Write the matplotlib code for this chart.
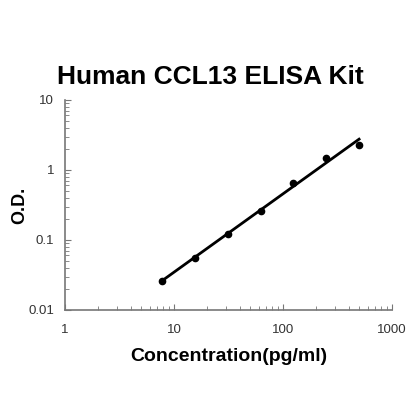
import matplotlib
matplotlib.use('Agg')
import matplotlib.pyplot as plt
import numpy as np

conc = [7.8, 15.6, 31.25, 62.5, 125, 250, 500]
od = [0.026, 0.056, 0.12, 0.26, 0.65, 1.5, 2.3]

plt.rcParams['font.family'] = ['Liberation Sans', 'DejaVu Sans']

fig = plt.figure(figsize=(4.2, 4.2), dpi=100)
ax = fig.add_axes([0.155, 0.262, 0.778, 0.5])

# linear fit in log-log space
p = np.polyfit(np.log10(conc), np.log10(od), 1)
xs = np.array([conc[0], conc[-1]])
ax.plot(xs, 10 ** np.polyval(p, np.log10(xs)), color='black', lw=2)
ax.plot(conc, od, 'o', color='black', markersize=4.5)

ax.set_xscale('log')
ax.set_yscale('log')
ax.set_xlim(1, 1000)
ax.set_ylim(0.01, 10)
ax.set_xticks([1, 10, 100, 1000])
ax.set_xticklabels(['1', '10', '100', '1000'])
ax.set_yticks([0.01, 0.1, 1, 10])
ax.set_yticklabels(['0.01', '0.1', '1', '10'])

for s in ['top', 'right']:
    ax.spines[s].set_visible(False)
for s in ['left', 'bottom']:
    ax.spines[s].set_color('#777777')
    ax.spines[s].set_linewidth(1.2)

ax.tick_params(which='both', direction='in', color='#777777', labelsize=9.5, labelcolor='#333333')
ax.tick_params(which='major', length=4)
ax.tick_params(which='minor', length=3)
ax.tick_params(axis='x', pad=10)
ax.tick_params(axis='y', pad=8)

ax.set_xlabel('Concentration(pg/ml)', fontsize=14, fontweight='bold')
ax.set_ylabel('O.D.', fontsize=13, fontweight='bold')
ax.xaxis.set_label_coords(0.5, -0.18)
ax.yaxis.set_label_coords(-0.113, 0.5)
fig.suptitle('Human CCL13 ELISA Kit', fontsize=19, fontweight='bold', y=0.845)

plt.savefig('out.png')
